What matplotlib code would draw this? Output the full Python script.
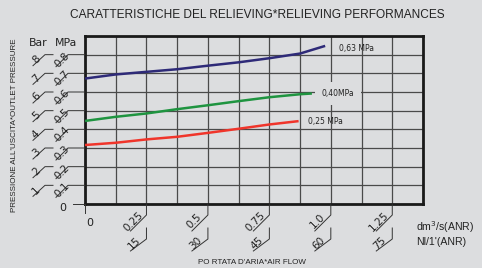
import matplotlib
matplotlib.use('Agg')
import matplotlib.pyplot as plt
from matplotlib.lines import Line2D
from matplotlib.transforms import IdentityTransform
import numpy as np

# portata dm3/s e pressione in uscita MPa
flow = [0.0, 0.125, 0.25, 0.375, 0.5, 0.625, 0.75, 0.875]
p063 = [0.672, 0.694, 0.708, 0.722, 0.741, 0.759, 0.781, 0.806]
flow063_end = 0.977
p063_end = 0.847
p040 = [0.445, 0.467, 0.485, 0.508, 0.529, 0.551, 0.572, 0.588]
flow040_end = 0.923
p040_end = 0.592
p025 = [0.316, 0.328, 0.346, 0.360, 0.381, 0.403, 0.426]
flow025_end = 0.869
p025_end = 0.444

labels = ['0,63 MPa', '0,40MPa', '0,25 MPa']
colors = ['#2e2a78', '#1f9440', '#f0352b']

xt_dm3 = [0.25, 0.5, 0.75, 1.0, 1.25]
xt_dm3_lab = ['0.25', '0.5', '0.75', '1.0', '1.25']
xt_nl_lab = ['15', '30', '45', '60', '75']
yt_mpa = [0.1, 0.2, 0.3, 0.4, 0.5, 0.6, 0.7, 0.8]
yt_mpa_lab = ['0.1', '0.2', '0.3', '0.4', '0.5', '0.6', '0.7', '0.8']
yt_bar_lab = ['1', '2', '3', '4', '5', '6', '7', '8']

bg = '#dcdddf'
W, H = 482, 268
fig = plt.figure(figsize=(W / 100, H / 100), dpi=100, facecolor=bg)
ax = fig.add_axes([85 / W, (H - 204) / H, (423 - 85) / W, (204 - 36) / H])
ax.set_facecolor(bg)
ax.set_xlim(0, 1.375)
ax.set_ylim(0, 0.9)
ax.set_xticks(np.arange(0, 1.376, 0.125))
ax.set_yticks(np.arange(0, 0.91, 0.1))
ax.tick_params(length=0, labelbottom=False, labelleft=False)
ax.grid(True, color='#4a4a4a', lw=0.9)
for s in ax.spines.values():
    s.set_linewidth(2)
    s.set_color('#1a1a1a')

curves = [(flow + [flow063_end], p063 + [p063_end]),
          (flow + [flow040_end], p040 + [p040_end]),
          (flow[:7] + [flow025_end], p025 + [p025_end])]
offs = [(10, -2), (7, 0), (7, 0)]
for (x, y), c, lab, o in zip(curves, colors, labels, offs):
    ax.plot(x, y, color=c, lw=1.8, solid_capstyle='butt', zorder=3)
    ax.annotate(lab, (x[-1], y[-1]), xytext=o, textcoords='offset points',
                fontsize=5.5, va='center', ha='left', color='#222222',
                bbox=dict(boxstyle='square,pad=0.9', fc=bg, ec='none') if lab == '0,40MPa' else None,
                zorder=4)

ident = IdentityTransform()
lc = '#333333'


def seg(pts):
    xs = [p[0] for p in pts]
    ys = [H - p[1] for p in pts]
    fig.add_artist(Line2D(xs, ys, transform=ident, color=lc, lw=0.7))


def txt(x, y, s, **kw):
    fig.text(x, H - y, s, transform=ident, color='#222222', **kw)


def xpix(v):
    return ax.transData.transform((v, 0))[0]


def ypix(v):
    return H - ax.transData.transform((0, v))[1]


# x ticks
x0 = xpix(0)
seg([(x0, 204), (x0, 213)])
txt(x0 + 5, 223, '0', fontsize=8, ha='center', va='center')
for v, l1, l2 in zip(xt_dm3, xt_dm3_lab, xt_nl_lab):
    t = xpix(v)
    seg([(t, 204), (t, 215), (t - 16, 231)])
    txt(t - 13.5, 221.5, l1, fontsize=7.5, rotation=45, ha='center', va='center')
    seg([(t, 228), (t, 239), (t - 16, 251)])
    txt(t - 12.5, 243, l2, fontsize=7.5, rotation=45, ha='center', va='center')

# y ticks
seg([(73, 204), (85, 204)])
txt(63, 208, '0', fontsize=8, ha='center', va='center')
for v, lm, lb in zip(yt_mpa, yt_mpa_lab, yt_bar_lab):
    g = ypix(v)
    seg([(85, g), (68, g), (56, g + 12)])
    txt(62, g + 5, lm, fontsize=7.5, rotation=45, ha='center', va='center')
    seg([(53, g), (45, g), (33, g + 11)])
    txt(36, g + 5, lb, fontsize=7.5, rotation=45, ha='center', va='center')
txt(38, 43, 'Bar', fontsize=7.8, ha='center', va='center')
txt(66, 43, 'MPa', fontsize=7.8, ha='center', va='center')

txt(257, 15, 'CARATTERISTICHE DEL RELIEVING*RELIEVING PERFORMANCES',
    fontsize=8.6, ha='center', va='center', family='Liberation Sans')
txt(15, 125, "PRESSIONE ALL'USCITA*OUTLET PRESSURE", fontsize=5.8,
    rotation=90, ha='center', va='center', family='Liberation Sans')
txt(252, 263, "PO RTATA D'ARIA*AIR FLOW", fontsize=5.8, ha='center',
    va='center', family='Liberation Sans')
txt(416, 227, 'dm$^3$/s(ANR)', fontsize=7.6, ha='left', va='center', family='Liberation Sans')
txt(416, 242, "Nl/1'(ANR)", fontsize=7.6, ha='left', va='center', family='Liberation Sans')

fig.savefig('out.png', dpi=100, facecolor=bg)
